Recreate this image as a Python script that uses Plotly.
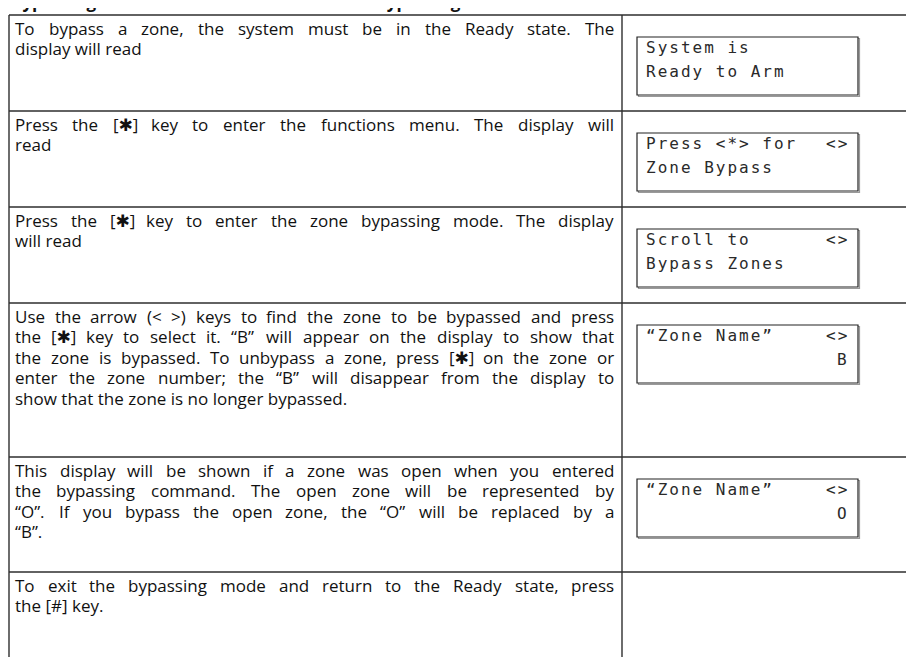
import plotly.graph_objects as go

# ---------------- data (text content) ----------------
HEADING = "Bypassing Zones with the Function Menu – Bypassing"

INSTRUCTIONS = [
    ["To bypass a zone, the system must be in the Ready state. The",
     "display will read"],
    ["Press the [✱] key to enter the functions menu. The display will",
     "read"],
    ["Press the [✱] key to enter the zone bypassing mode. The display",
     "will read"],
    ["Use the arrow (< >) keys to find the zone to be bypassed and press",
     "the [✱] key to select it. “B” will appear on the display to show that",
     "the zone is bypassed. To unbypass a zone, press [✱] on the zone or",
     "enter the zone number; the “B” will disappear from the display to",
     "show that the zone is no longer bypassed."],
    ["This display will be shown if a zone was open when you entered",
     "the bypassing command. The open zone will be represented by",
     "“O”. If you bypass the open zone, the “O” will be replaced by a",
     "“B”."],
    ["To exit the bypassing mode and return to the Ready state, press",
     "the [#] key."],
]

LCD_LINE1_LEFT = ["System is", "Press <*> for", "Scroll to", "“Zone Name”", "“Zone Name”", None]
LCD_LINE1_RIGHT = ["", "<>", "<>", "<>", "<>", None]
LCD_LINE2_LEFT = ["Ready to Arm", "Zone Bypass", "Bypass Zones", "", "", None]
LCD_LINE2_RIGHT = ["", "", "", "B", "O", None]

# ---------------- layout constants ----------------
W, H = 914, 657
ROW_TOPS = [7, 103, 199, 295, 449, 564]
X_LEFT, X_DIV = 1, 614
TX0, TX1 = 7, 606
BODY_SIZE = 17
LINE_GAP = 20.5
FIRST_OFF = 13
BOX_X0, BOX_X1 = 629, 850
BOX_OFF, BOX_H = 22, 58

# approximate Open Sans advance widths (units / 2048 em)
CW = {' ': 532, 'a': 1139, 'b': 1255, 'c': 975, 'd': 1255, 'e': 1149, 'f': 694, 'g': 1122,
      'h': 1257, 'i': 518, 'j': 518, 'k': 1075, 'l': 518, 'm': 1905, 'n': 1257, 'o': 1237,
      'p': 1255, 'q': 1255, 'r': 836, 's': 977, 't': 723, 'u': 1257, 'v': 1026, 'w': 1593,
      'x': 1073, 'y': 1028, 'z': 977, 'A': 1296, 'B': 1327, 'C': 1292, 'D': 1493, 'E': 1139,
      'F': 1057, 'G': 1491, 'H': 1511, 'I': 571, 'J': 547, 'K': 1257, 'L': 1073, 'M': 1849,
      'N': 1556, 'O': 1597, 'P': 1237, 'Q': 1597, 'R': 1272, 'S': 1100, 'T': 1135, 'U': 1506,
      'V': 1221, 'W': 1876, 'X': 1194, 'Y': 1155, 'Z': 1159, ',': 502, '.': 545, ';': 545,
      ':': 545, '(': 606, ')': 606, '[': 674, ']': 674, '<': 1169, '>': 1169, '#': 1323,
      '“': 811, '”': 811, '✱': 1500, '-': 659}


def esc(s):
    return s.replace('&', '&amp;').replace('<', '&lt;').replace('>', '&gt;')


def tw(s, size):
    return sum(CW.get(c, 1100) for c in s) / 2048.0 * size


def star(s):
    return esc(s).replace('✱', '<span style="font-family:DejaVu Sans">✱</span>')


shapes = []
annotations = []

BODY_FONT = dict(family="Open Sans, Noto Sans, sans-serif", size=BODY_SIZE, color="#111111")


def note(x, y, text, font, xanchor='left'):
    annotations.append(dict(x=x, y=y, xref='x', yref='y', xanchor=xanchor, yanchor='middle',
                            text=text, showarrow=False, borderpad=0, borderwidth=0, font=font))


# heading (cut off at the top edge: only its descenders are visible)
annotations.append(dict(x=3, y=5.5, xref='x', yref='y', xanchor='left', yanchor='bottom',
                        text="<b>" + esc(HEADING) + "</b>", showarrow=False, borderpad=0,
                        borderwidth=0,
                        font=dict(family="Open Sans, sans-serif", size=17, color="#111")))

# table rules
for yt in ROW_TOPS:
    shapes.append(dict(type='line', x0=X_LEFT, x1=W + 5, y0=yt, y1=yt,
                       line=dict(color='#2e2e2e', width=1.4)))
for xv in (X_LEFT, X_DIV):
    shapes.append(dict(type='line', x0=xv, x1=xv, y0=ROW_TOPS[0], y1=H + 5,
                       line=dict(color='#2e2e2e', width=1.4)))

# instruction text, justified word by word
space_w = tw(' ', BODY_SIZE)
for r, lines in enumerate(INSTRUCTIONS):
    top = ROW_TOPS[r]
    for li, line in enumerate(lines):
        y = top + FIRST_OFF + li * LINE_GAP
        last = (li == len(lines) - 1)
        if last:
            note(TX0, y, star(line), BODY_FONT)
            continue
        words = line.split(' ')
        widths = [tw(w, BODY_SIZE) for w in words]
        gap = (TX1 - TX0 - sum(widths)) / (len(words) - 1)
        gap = max(gap, space_w * 0.8)
        x = TX0
        for wi, (w, wd) in enumerate(zip(words, widths)):
            if wi == len(words) - 1:
                note(TX1, y, star(w), BODY_FONT, xanchor='right')
            else:
                note(x, y, star(w), BODY_FONT)
            x += wd + gap

# LCD boxes
LCD_FONT = dict(family="DejaVu Sans Mono, Liberation Mono, monospace", size=16, color="#2a2a2a")
for r in range(len(INSTRUCTIONS)):
    if LCD_LINE1_LEFT[r] is None:
        continue
    top = ROW_TOPS[r] + BOX_OFF
    shapes.append(dict(type='rect', x0=BOX_X0 + 1.5, x1=BOX_X1 + 1.5, y0=top + 1.5, y1=top + BOX_H + 1.5,
                       line=dict(color='#9a9a9a', width=1.2)))
    shapes.append(dict(type='rect', x0=BOX_X0, x1=BOX_X1, y0=top, y1=top + BOX_H,
                       fillcolor='white', line=dict(color='#222', width=1.2)))
    rows = [(LCD_LINE1_LEFT[r], LCD_LINE1_RIGHT[r], top + 10),
            (LCD_LINE2_LEFT[r], LCD_LINE2_RIGHT[r], top + 34)]
    for left, right, yy in rows:
        if left:
            note(BOX_X0 + 9, yy, '<span style="letter-spacing:2px">' + esc(left) + '</span>', LCD_FONT)
        if right:
            note(BOX_X1 - 9, yy, '<span style="letter-spacing:2px">' + esc(right) + '</span>', LCD_FONT,
                 xanchor='right')

fig = go.Figure()
fig.update_layout(
    width=W, height=H,
    margin=dict(l=0, r=0, t=0, b=0),
    paper_bgcolor='white', plot_bgcolor='white',
    xaxis=dict(range=[0, W], visible=False, fixedrange=True),
    yaxis=dict(range=[H, 0], visible=False, fixedrange=True),
    shapes=shapes, annotations=annotations, showlegend=False,
)

fig.write_html("out.html", config={'displayModeBar': False})
